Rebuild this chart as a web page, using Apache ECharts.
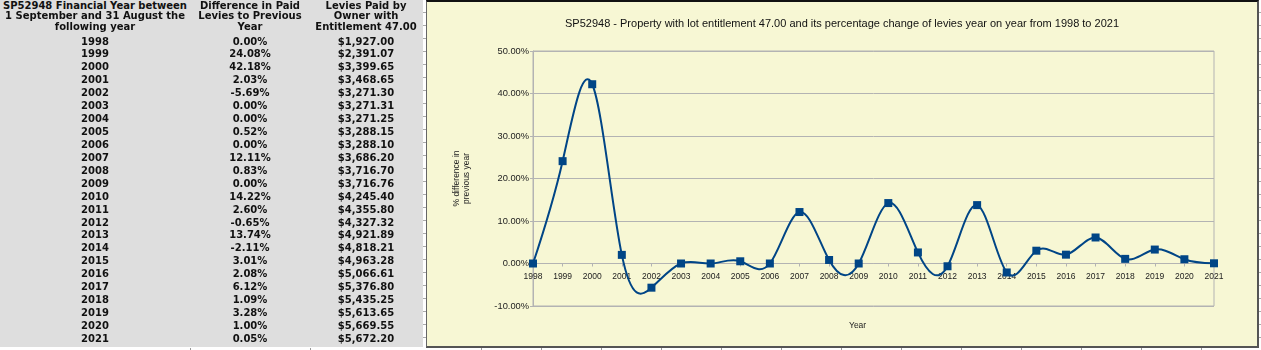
<!DOCTYPE html>
<html>
<head>
<meta charset="utf-8">
<script src="https://cdn.jsdelivr.net/npm/echarts@6/dist/echarts.min.js"></script>
<style>
  html, body { margin:0; padding:0; background:#fff; width:1261px; height:350px; overflow:hidden; }
  #panel { position:absolute; left:0; top:0; width:423px; height:347px; background:#dedede; }
  .t { position:absolute; font-family:"DejaVu Sans", sans-serif; font-weight:bold; font-size:10px; color:#111; text-align:center; white-space:nowrap; line-height:11px; }
  #frame { position:absolute; left:426px; top:0; width:830px; height:344px; background:#f7f7d4; border-left:1px solid #666; border-right:2px solid #555; border-bottom:2px solid #555; border-top:2px solid #111; }
  #chart { position:absolute; left:0; top:0; width:830px; height:344px; }
  .vl { position:absolute; width:1px; background:#999; }
  .hl { position:absolute; height:1px; background:#aaa; }
</style>
</head>
<body>
<div id="panel"></div>
<div id="frame"><div id="chart"></div></div>
<script>
const headers = [
  ["SP52948 Financial Year between", "1 September and 31 August the", "following year"],
  ["Difference in Paid", "Levies to Previous", "Year"],
  ["Levies Paid by", "Owner with", "Entitlement 47.00"]
];
const years = ["1998","1999","2000","2001","2002","2003","2004","2005","2006","2007","2008","2009","2010","2011","2012","2013","2014","2015","2016","2017","2018","2019","2020","2021"];
const diffPct = [0.00, 24.08, 42.18, 2.03, -5.69, 0.00, 0.00, 0.52, 0.00, 12.11, 0.83, 0.00, 14.22, 2.60, -0.65, 13.74, -2.11, 3.01, 2.08, 6.12, 1.09, 3.28, 1.00, 0.05];
const levies = ["$1,927.00","$2,391.07","$3,399.65","$3,468.65","$3,271.30","$3,271.31","$3,271.25","$3,288.15","$3,288.10","$3,686.20","$3,716.70","$3,716.76","$4,245.40","$4,355.80","$4,327.32","$4,921.89","$4,818.21","$4,963.28","$5,066.61","$5,376.80","$5,435.25","$5,613.65","$5,669.55","$5,672.20"];
const yTicks = { min: -10, max: 50, interval: 10 };
const chartTitle = "SP52948 - Property with lot entitlement 47.00 and its percentage change of levies year on year from 1998 to 2021";
const yAxisName = "% difference in\nprevious year";
const xAxisName = "Year";

// Build the table as HTML text
const colCenters = [95, 250, 366];
function addText(txt, cx, cy) {
  const d = document.createElement('div');
  d.className = 't';
  d.textContent = txt;
  d.style.left = (cx - 150) + 'px';
  d.style.width = '300px';
  d.style.top = (cy - 5.5) + 'px';
  document.body.appendChild(d);
}
const headerY = [5, 15.5, 26];
headers.forEach((h, c) => h.forEach((line, r) => addText(line, colCenters[c], headerY[r])));
years.forEach((y, i) => {
  const cy = 41 + i * 12.93;
  addText(y, colCenters[0], cy);
  addText(diffPct[i].toFixed(2) + '%', colCenters[1], cy);
  addText(levies[i], colCenters[2], cy);
});
// spreadsheet grid bits
[190, 310, 481, 541, 601, 661, 721, 781, 841, 901, 961, 1021, 1081, 1141, 1201].forEach(x => {
  const v = document.createElement('div'); v.className = 'vl';
  v.style.left = x + 'px'; v.style.top = '348px'; v.style.height = '2px';
  document.body.appendChild(v);
});
for (let y = 12; y < 346; y += 13) {
  const h = document.createElement('div'); h.className = 'hl';
  h.style.left = '423px'; h.style.top = y + 'px'; h.style.width = '3px';
  document.body.appendChild(h);
  const h2 = document.createElement('div'); h2.className = 'hl';
  h2.style.left = '1259px'; h2.style.top = y + 'px'; h2.style.width = '2px';
  document.body.appendChild(h2);
}

// Natural cubic spline (like the spreadsheet's "cubic spline" line) drawn
// through the series' own pixel coordinates from the axes.
function splineDerivs(ys) {
  const n = ys.length - 1;
  const M = new Array(n + 1).fill(0);
  if (n >= 2) {
    const a = [], b = [], c = [], d = [];
    for (let i = 1; i < n; i++) {
      a.push(1); b.push(4); c.push(1);
      d.push(6 * (ys[i + 1] - 2 * ys[i] + ys[i - 1]));
    }
    const m = d.length;
    for (let i = 1; i < m; i++) {
      const w = a[i] / b[i - 1];
      b[i] -= w * c[i - 1];
      d[i] -= w * d[i - 1];
    }
    const sol = new Array(m);
    sol[m - 1] = d[m - 1] / b[m - 1];
    for (let i = m - 2; i >= 0; i--) sol[i] = (d[i] - c[i] * sol[i + 1]) / b[i];
    for (let i = 1; i < n; i++) M[i] = sol[i - 1];
  }
  const D = [];
  for (let i = 0; i < n; i++) D.push((ys[i + 1] - ys[i]) - (2 * M[i] + M[i + 1]) / 6);
  D.push((ys[n] - ys[n - 1]) + (M[n - 1] + 2 * M[n]) / 6);
  return D;
}

const chart = echarts.init(document.getElementById('chart'), null, { renderer: 'canvas' });
const font = '"Liberation Sans", Arial, sans-serif';
const gridTop = 49, gridH = 255;
const zeroOffset = gridH * (0 - yTicks.min) / (yTicks.max - yTicks.min);
const lineColor = '#004586';
chart.setOption({
  animation: false,
  backgroundColor: 'transparent',
  textStyle: { fontFamily: font },
  title: {
    text: chartTitle, left: 'center', top: 11,
    textStyle: { fontSize: 11, fontWeight: 'normal', color: '#111', fontFamily: font }
  },
  grid: { left: 106, top: gridTop, width: 681, height: gridH, show: true, borderColor: '#b3b3b3', borderWidth: 1, backgroundColor: 'transparent' },
  xAxis: {
    type: 'category', data: years, boundaryGap: false,
    position: 'bottom', offset: -zeroOffset,
    axisLine: { onZero: false, lineStyle: { color: '#b3b3b3', width: 1 } },
    axisTick: { show: true, length: 3, lineStyle: { color: '#b3b3b3' } },
    axisLabel: { color: '#222', fontSize: 8.5, margin: 8.5, interval: 0, fontFamily: font },
    splitLine: { show: false }
  },
  yAxis: {
    type: 'value', min: yTicks.min, max: yTicks.max, interval: yTicks.interval,
    name: yAxisName, nameLocation: 'middle', nameRotate: 90, nameGap: 61,
    nameTextStyle: { fontSize: 8.5, color: '#222', fontFamily: font, lineHeight: 10 },
    axisLine: { show: true, lineStyle: { color: '#b3b3b3', width: 1 } },
    axisTick: { show: true, length: 3, lineStyle: { color: '#b3b3b3' } },
    axisLabel: { color: '#222', fontSize: 9.3, margin: 4, fontFamily: font, formatter: v => v.toFixed(2) + '%' },
    splitLine: { show: true, lineStyle: { color: '#b3b3b3', width: 1 } }
  },
  graphic: [{
    type: 'text', left: 422, top: 319,
    style: { text: xAxisName, fontSize: 8.5, fill: '#222', font: '8.5px ' + font }
  }],
  series: [{
    type: 'custom',
    data: diffPct.map((v, i) => [i, v]),
    encode: { x: 0, y: 1 },
    clip: false,
    z: 2,
    renderItem: function (params, api) {
      const i = params.dataIndex;
      if (i >= diffPct.length - 1) return null;
      const pts = diffPct.map((v, j) => api.coord([j, v]));
      const D = splineDerivs(pts.map(p => p[1]));
      const p0 = pts[i], p1 = pts[i + 1];
      const hx = (p1[0] - p0[0]) / 3;
      return {
        type: 'bezierCurve',
        shape: {
          x1: p0[0], y1: p0[1], x2: p1[0], y2: p1[1],
          cpx1: p0[0] + hx, cpy1: p0[1] + D[i] / 3,
          cpx2: p1[0] - hx, cpy2: p1[1] - D[i + 1] / 3
        },
        style: { stroke: lineColor, lineWidth: 2, fill: null }
      };
    }
  }, {
    type: 'scatter', data: diffPct,
    symbol: 'rect', symbolSize: 8,
    itemStyle: { color: lineColor, opacity: 1 },
    z: 3
  }]
});
</script>
</body>
</html>
